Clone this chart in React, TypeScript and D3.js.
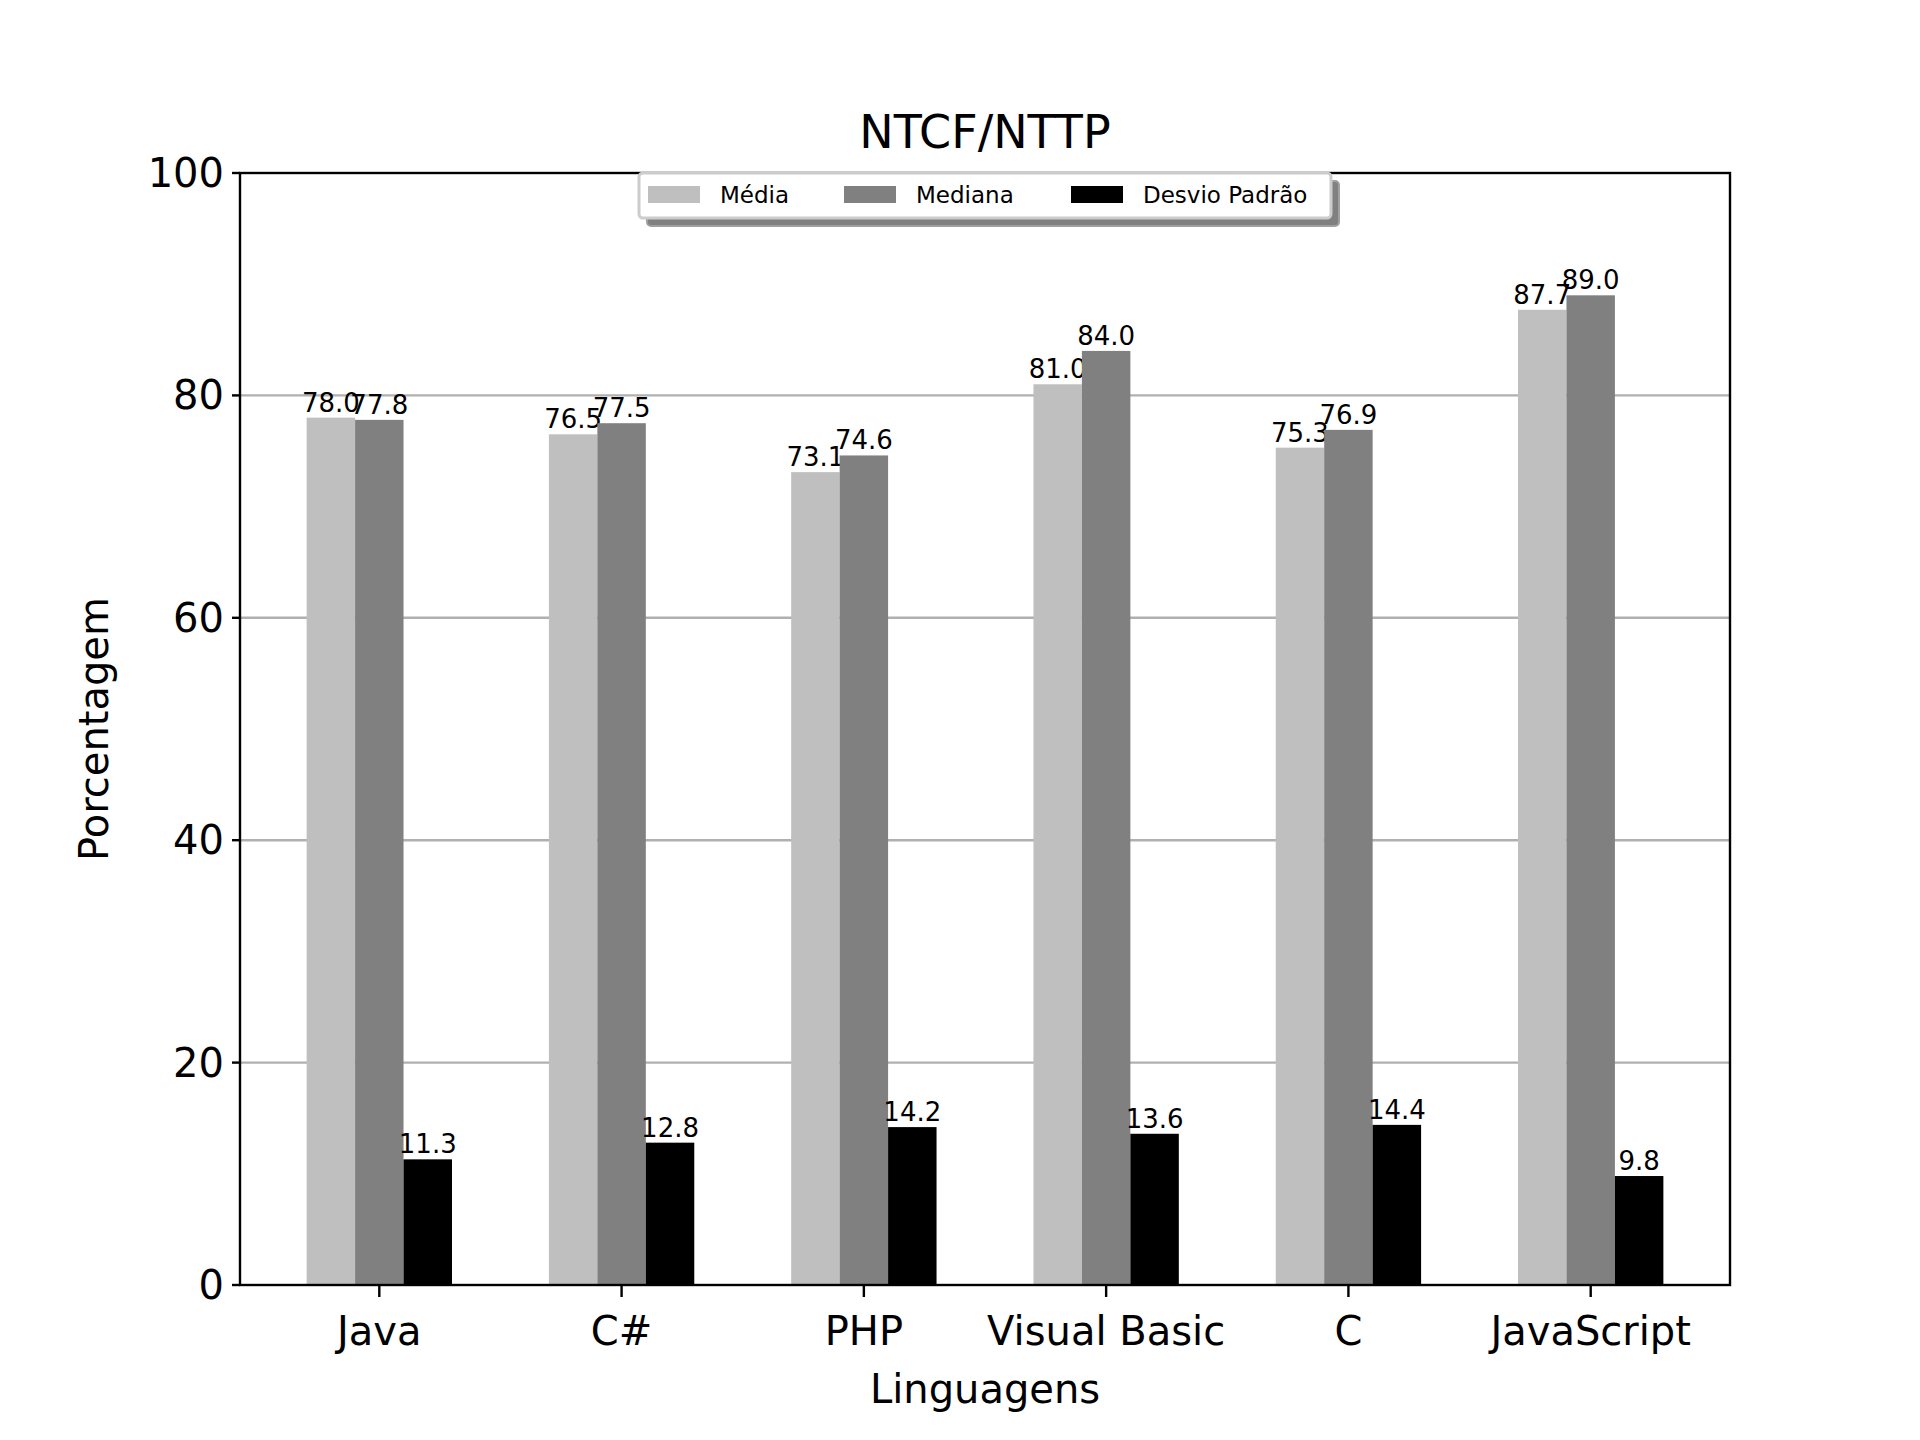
import React, { useEffect, useRef } from 'react';
import * as d3 from 'd3';

const categories = ['Java', 'C#', 'PHP', 'Visual Basic', 'C', 'JavaScript'];
const media = [78.0, 76.5, 73.1, 81.0, 75.3, 87.7];
const mediana = [77.8, 77.5, 74.6, 84.0, 76.9, 89.0];
const desvio = [11.3, 12.8, 14.2, 13.6, 14.4, 9.8];
const seriesNames = ['Média', 'Mediana', 'Desvio Padrão'];
const seriesColors = ['#bfbfbf', '#808080', '#000000'];
const yTicks = [0, 20, 40, 60, 80, 100];

const App: React.FC = () => {
  const svgRef = useRef<SVGSVGElement>(null);

  useEffect(() => {
    if (!svgRef.current) return;
    const svg = d3.select(svgRef.current);
    svg.selectAll('*').remove();
    const font = 'DejaVu Sans, sans-serif';
    const L = 240, R = 1730, T = 173, B = 1285;

    const x = d3.scaleLinear().domain([-0.575, 5.575]).range([L, R]);
    const y = d3.scaleLinear().domain([0, 100]).range([B, T]);
    const bw = x(0.2) - x(0);

    // grid
    svg.append('g').selectAll('line').data(yTicks.slice(1, 5)).enter().append('line')
      .attr('x1', L).attr('x2', R).attr('y1', d => y(d)).attr('y2', d => y(d))
      .attr('stroke', '#b0b0b0').attr('stroke-width', 2.4);

    const all = [media, mediana, desvio];
    all.forEach((vals, s) => {
      const g = svg.append('g');
      vals.forEach((v, i) => {
        const cx = x(i + (s - 1) * 0.2);
        g.append('rect').attr('x', cx - bw / 2).attr('width', bw)
          .attr('y', y(v)).attr('height', B - y(v)).attr('fill', seriesColors[s]);
        g.append('text').attr('x', cx).attr('y', y(v) - 6)
          .attr('text-anchor', 'middle').attr('font-family', font).attr('font-size', 26)
          .text(v.toFixed(1));
      });
    });

    // frame
    svg.append('rect').attr('x', L).attr('y', T).attr('width', R - L).attr('height', B - T)
      .attr('fill', 'none').attr('stroke', '#000').attr('stroke-width', 2.4);

    // y ticks
    yTicks.forEach(t => {
      svg.append('line').attr('x1', L - 8).attr('x2', L).attr('y1', y(t)).attr('y2', y(t))
        .attr('stroke', '#000').attr('stroke-width', 2.4);
      svg.append('text').attr('x', L - 16).attr('y', y(t)).attr('dy', '0.35em')
        .attr('text-anchor', 'end').attr('font-family', font).attr('font-size', 40).text(t);
    });
    // x ticks
    categories.forEach((c, i) => {
      svg.append('line').attr('x1', x(i)).attr('x2', x(i)).attr('y1', B).attr('y2', B + 12)
        .attr('stroke', '#000').attr('stroke-width', 2.4);
      svg.append('text').attr('x', x(i)).attr('y', B + 60)
        .attr('text-anchor', 'middle').attr('font-family', font).attr('font-size', 40).text(c);
    });

    svg.append('text').attr('x', (L + R) / 2).attr('y', 1403).attr('text-anchor', 'middle')
      .attr('font-family', font).attr('font-size', 40).text('Linguagens');
    svg.append('text').attr('transform', `translate(108,${(T + B) / 2}) rotate(-90)`)
      .attr('text-anchor', 'middle').attr('font-family', font).attr('font-size', 40).text('Porcentagem');
    svg.append('text').attr('x', (L + R) / 2).attr('y', 148).attr('text-anchor', 'middle')
      .attr('font-family', font).attr('font-size', 46).text('NTCF/NTTP');

    // legend
    const lg = svg.append('g');
    lg.append('rect').attr('x', 647).attr('y', 181).attr('width', 692).attr('height', 45)
      .attr('rx', 4).attr('fill', '#808080').attr('stroke', '#a0a0a0').attr('stroke-width', 2);
    lg.append('rect').attr('x', 639).attr('y', 173).attr('width', 692).attr('height', 45)
      .attr('rx', 4).attr('fill', '#fff').attr('stroke', '#cccccc').attr('stroke-width', 3);
    const lx = [648, 844, 1071];
    seriesNames.forEach((n, i) => {
      lg.append('rect').attr('x', lx[i]).attr('y', 186).attr('width', 52).attr('height', 17)
        .attr('fill', seriesColors[i]);
      lg.append('text').attr('x', lx[i] + 72).attr('y', 203).attr('font-family', font)
        .attr('font-size', 23).text(n);
    });
  }, []);

  return <svg ref={svgRef} width={1920} height={1440} style={{ display: 'block', margin: -8 }} />;
};

export default App;
